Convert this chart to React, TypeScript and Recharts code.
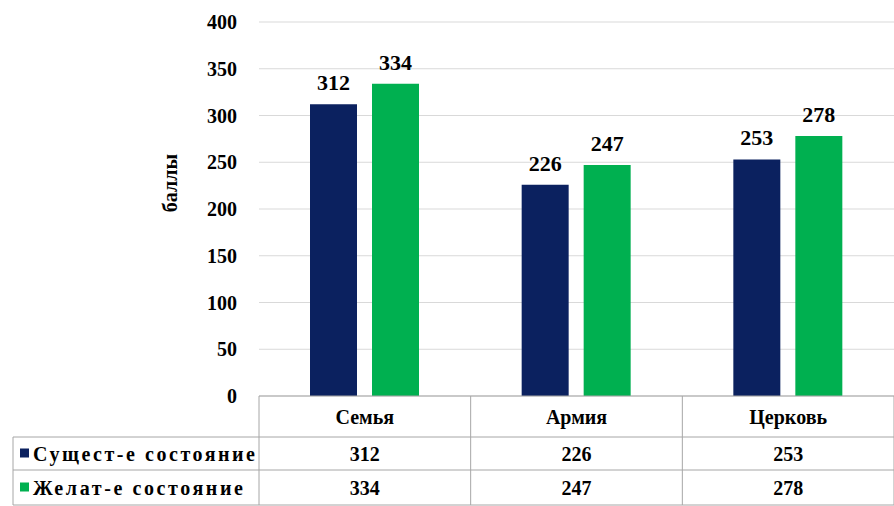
import { Bar, BarChart, CartesianGrid, LabelList, XAxis, YAxis } from "recharts";

const categories = ["Семья", "Армия", "Церковь"];
const currentState = [312, 226, 253];
const desiredState = [334, 247, 278];
const seriesNames = ["Сущест-е состояние", "Желат-е состояние"];
const yTicks = [0, 50, 100, 150, 200, 250, 300, 350, 400];

const NAVY = "#0b215f";
const GREEN = "#00b050";
const GRID = "#d9d9d9";
const BORDER = "#a6a6a6";
const FONT = "'Times New Roman', 'Liberation Serif', 'DejaVu Serif', serif";

const W = 894;
const H = 506;
const PLOT_LEFT = 259;
const PLOT_TOP = 22;
const PLOT_BOTTOM = 396;
const COL_W = (W - PLOT_LEFT) / categories.length;

// data-table rows under the axis
const TABLE_LEFT = 13;
const HEADER_BOTTOM = 437;
const ROW1_BOTTOM = 470;
const TABLE_BOTTOM = 505;
const ROW_LABEL_WIDTHS = [222, 210];

const rows = categories.map((name, i) => ({
  name,
  current: currentState[i],
  desired: desiredState[i],
}));

function Txt(props: any) {
  const { children, size = 20, ...rest } = props;
  return (
    <text
      style={{ fontFamily: FONT, fontWeight: 700, fontSize: size }}
      fill="#000"
      dominantBaseline="central"
      {...rest}
    >
      {children}
    </text>
  );
}

function YTick({ y, payload }: any) {
  return (
    <Txt x={237} y={y} textAnchor="end">
      {payload.value}
    </Txt>
  );
}

function YTitle() {
  return (
    <Txt x={170} y={183} textAnchor="middle" transform="rotate(-90 170 183)">
      баллы
    </Txt>
  );
}

function TableTick({ x, payload, index }: any) {
  const left = x - COL_W / 2;
  const headerMid = (PLOT_BOTTOM + HEADER_BOTTOM) / 2;
  const row1Mid = (HEADER_BOTTOM + ROW1_BOTTOM) / 2;
  const row2Mid = (ROW1_BOTTOM + TABLE_BOTTOM) / 2;
  const isLast = index === categories.length - 1;
  return (
    <g>
      <line x1={left} y1={PLOT_BOTTOM} x2={left} y2={TABLE_BOTTOM} stroke={BORDER} />
      {isLast && <line x1={left + COL_W} y1={PLOT_BOTTOM} x2={left + COL_W} y2={TABLE_BOTTOM} stroke={BORDER} />}
      <Txt x={x} y={headerMid} textAnchor="middle">
        {payload.value}
      </Txt>
      <Txt x={x} y={row1Mid} textAnchor="middle">
        {currentState[index]}
      </Txt>
      <Txt x={x} y={row2Mid} textAnchor="middle">
        {desiredState[index]}
      </Txt>
      {index === 0 && (
        <g>
          <line x1={TABLE_LEFT} y1={HEADER_BOTTOM} x2={W} y2={HEADER_BOTTOM} stroke={BORDER} />
          <line x1={TABLE_LEFT} y1={ROW1_BOTTOM} x2={W} y2={ROW1_BOTTOM} stroke={BORDER} />
          <line x1={TABLE_LEFT} y1={TABLE_BOTTOM} x2={W} y2={TABLE_BOTTOM} stroke={BORDER} />
          <line x1={TABLE_LEFT} y1={HEADER_BOTTOM} x2={TABLE_LEFT} y2={TABLE_BOTTOM} stroke={BORDER} />
          {[NAVY, GREEN].map((color, r) => {
            const mid = r === 0 ? row1Mid : row2Mid;
            return (
              <g key={color}>
                <rect x={20} y={mid - 5} width={9} height={9} fill={color} />
                <Txt x={33} y={mid} textLength={ROW_LABEL_WIDTHS[r]} lengthAdjust="spacing">
                  {seriesNames[r]}
                </Txt>
              </g>
            );
          })}
        </g>
      )}
    </g>
  );
}

const valueLabelStyle = { fontFamily: FONT, fontWeight: 700, fontSize: 22, fill: "#000" };

export default function App() {
  return (
    <div style={{ position: "absolute", left: 0, top: 0, width: W, height: H, background: "#fff", overflow: "hidden", fontFamily: FONT }}>
      <BarChart
        width={W}
        height={H}
        data={rows}
        margin={{ top: PLOT_TOP, right: 0, bottom: 0, left: 0 }}
        barSize={47}
        barGap={15}
        style={{ fontFamily: FONT }}
      >
        <CartesianGrid vertical={false} stroke={GRID} />
        <XAxis
          dataKey="name"
          height={H - PLOT_BOTTOM}
          interval={0}
          tickLine={false}
          axisLine={{ stroke: BORDER }}
          tick={<TableTick />}
        />
        <YAxis
          width={PLOT_LEFT}
          domain={[0, 400]}
          ticks={yTicks}
          axisLine={false}
          tickLine={false}
          tick={<YTick />}
          label={<YTitle />}
        />
        <Bar dataKey="current" name={seriesNames[0]} fill={NAVY} isAnimationActive={false}>
          <LabelList dataKey="current" position="top" offset={14} style={valueLabelStyle} />
        </Bar>
        <Bar dataKey="desired" name={seriesNames[1]} fill={GREEN} isAnimationActive={false}>
          <LabelList dataKey="desired" position="top" offset={14} style={valueLabelStyle} />
        </Bar>
      </BarChart>
    </div>
  );
}
